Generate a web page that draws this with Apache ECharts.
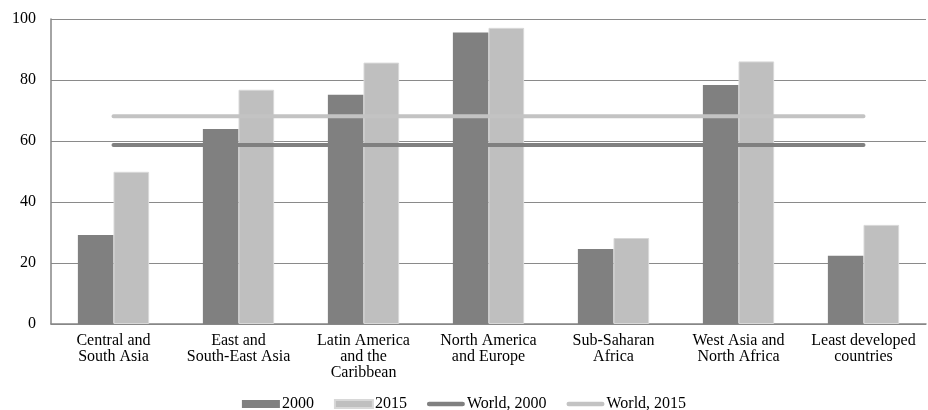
<!DOCTYPE html>
<html>
<head>
<meta charset="utf-8">
<script src="https://cdn.jsdelivr.net/npm/echarts@6/dist/echarts.min.js"></script>
<style>
  html, body { margin: 0; padding: 0; background: #fff; }
  #chart { width: 928px; height: 410px; }
</style>
</head>
<body>
<div id="chart"></div>
<script>
var regions = [
  'Central and\nSouth Asia',
  'East and\nSouth-East Asia',
  'Latin America\nand the\nCaribbean',
  'North America\nand Europe',
  'Sub-Saharan\nAfrica',
  'West Asia and\nNorth Africa',
  'Least developed\ncountries'
];
var values2000 = [29.2, 63.9, 75.2, 95.6, 24.6, 78.4, 22.4];
var values2015 = [49.9, 76.8, 85.7, 97.1, 28.2, 86.1, 32.5];
var world2000 = [58.7, 58.7, 58.7, 58.7, 58.7, 58.7, 58.7];
var world2015 = [68.1, 68.1, 68.1, 68.1, 68.1, 68.1, 68.1];

var font = '"Liberation Serif", "Times New Roman", serif';
// thin capsule inside an 40x8 box, so the legend keeps it thin
var lineIcon = 'path://M0,0M2,1.5H38A2.5,2.5,0,0,1,38,6.5H2A2.5,2.5,0,0,1,2,1.5ZM40,8';

var chart = echarts.init(document.getElementById('chart'));
var option = {
  animation: false,
  textStyle: { fontFamily: font, color: '#000' },
  grid: { left: 51, right: 2, top: 19, bottom: 86, containLabel: false },
  legend: {
    bottom: -7,
    left: 'center',
    itemGap: 20,
    itemWidth: 38,
    itemHeight: 8,
    textStyle: { fontFamily: font, fontSize: 16, color: '#000', padding: [0, 0, 0, -3] },
    data: [
      { name: '2000', icon: 'rect' },
      { name: '2015', icon: 'rect' },
      { name: 'World, 2000', icon: lineIcon },
      { name: 'World, 2015', icon: lineIcon }
    ]
  },
  xAxis: {
    type: 'category',
    data: regions,
    axisLine: { lineStyle: { color: '#868686', width: 1.5 } },
    axisTick: { length: 4, lineStyle: { color: '#868686' } },
    axisLabel: { interval: 0, fontFamily: font, fontSize: 16, color: '#000', lineHeight: 16, margin: 9 }
  },
  yAxis: {
    type: 'value',
    min: 0,
    max: 100,
    interval: 20,
    axisLine: { show: true, lineStyle: { color: '#868686', width: 1.5 } },
    axisTick: { show: false },
    splitLine: { lineStyle: { color: '#8a8a8a', width: 1.2 } },
    axisLabel: { fontFamily: font, fontSize: 16, color: '#000', margin: 15 }
  },
  series: [
    {
      name: '2000',
      type: 'bar',
      data: values2000,
      barGap: '0%',
      barCategoryGap: '43%',
      itemStyle: { color: '#808080' }
    },
    {
      name: '2015',
      type: 'bar',
      data: values2015,
      itemStyle: { color: '#bfbfbf', borderColor: '#d8d8d8', borderWidth: 1 }
    },
    {
      name: 'World, 2000',
      type: 'line',
      data: world2000,
      symbol: 'none',
      z: 5,
      lineStyle: { color: '#808080', width: 4, cap: 'round' },
      itemStyle: { color: '#808080' }
    },
    {
      name: 'World, 2015',
      type: 'line',
      data: world2015,
      symbol: 'none',
      z: 5,
      lineStyle: { color: '#c3c3c3', width: 4, cap: 'round' },
      itemStyle: { color: '#c3c3c3' }
    }
  ]
};
chart.setOption(option);
</script>
</body>
</html>
